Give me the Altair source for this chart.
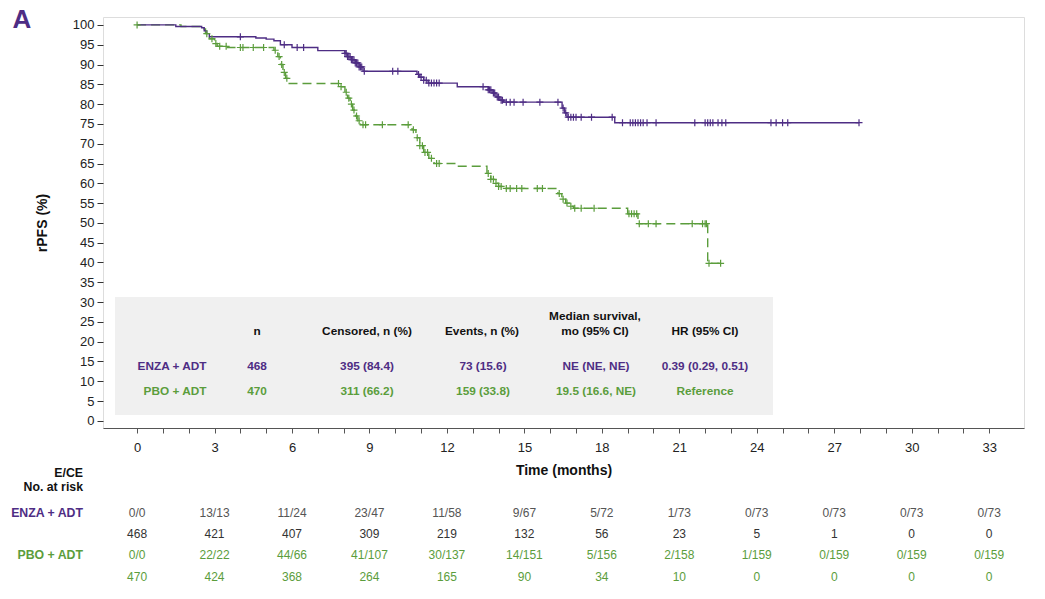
import altair as alt
import pandas as pd

# ---------------- data ----------------
# ENZA + ADT Kaplan-Meier steps (month, rPFS %)
enza_t = [0, 1.5, 2.5, 2.6, 2.7, 2.8, 4.6, 5.0, 5.3, 5.55, 6.0, 7.0,
          8.05, 8.15, 8.3, 8.45, 8.6, 8.75, 10.84, 10.95, 11.1, 11.27, 12.4,
          13.6, 13.75, 13.9, 14.05, 14.2, 16.46, 16.55, 16.65, 18.5]
enza_s = [100, 99.6, 99.3, 98.5, 97.8, 97.0, 96.7, 96.4, 96.0, 95.0, 94.3, 93.5,
          92.8, 92.0, 91.2, 90.4, 89.4, 88.3, 87.5, 86.8, 86.0, 85.3, 84.4,
          83.6, 82.8, 81.8, 81.0, 80.5, 79.0, 77.8, 76.7, 75.3]
enza_cens = [4.0, 5.7, 6.2, 6.45, 8.05, 8.1, 8.15, 8.2, 8.25, 8.3, 8.35, 8.4, 8.45, 8.5,
             8.55, 8.6, 8.65, 8.7, 8.8, 9.9, 10.1, 10.9, 11.0, 11.1, 11.2,
             11.3, 11.4, 11.5, 11.6, 11.7, 13.4, 13.6, 13.65, 13.7, 13.8, 13.85, 13.95,
             14.0, 14.1, 14.15, 14.3, 14.45,
             14.6, 14.95, 15.6, 16.3, 16.5, 16.6, 16.7, 16.8, 16.9, 17.0, 17.2, 17.6, 18.4, 18.8,
             19.1, 19.2, 19.3, 19.4, 19.5, 19.6, 19.75, 20.1, 21.6, 22.0, 22.1, 22.2,
             22.3, 22.5, 22.65, 22.8, 24.55, 24.75, 25.0, 25.2, 27.96]

# PBO + ADT Kaplan-Meier steps (month, rPFS %)
pbo_t = [0, 1.7, 2.55, 2.65, 2.8, 3.0, 3.1, 3.5, 5.3, 5.45, 5.55, 5.65, 5.75, 5.85,
         7.85, 8.05, 8.15, 8.25, 8.35, 8.45, 8.55, 8.65, 10.65, 10.8, 10.95, 11.1,
         11.3, 11.5, 12.4, 13.55, 13.7, 13.85, 14.0, 14.2, 16.3, 16.45, 16.6, 16.75,
         16.9, 19.0, 19.4, 22.1]
pbo_s = [100, 99.6, 99.0, 97.8, 96.5, 95.3, 94.6, 94.3, 93.6, 92.0, 90.0, 88.0, 86.5, 85.2,
         84.4, 83.0, 81.5, 80.0, 78.5, 77.0, 75.8, 74.8, 73.5, 71.5, 69.5, 67.8,
         66.3, 65.0, 64.3, 62.5, 61.0, 60.0, 59.2, 58.7, 57.4, 56.0, 55.0, 54.2,
         53.7, 52.3, 49.8, 39.8]
pbo_cens = [0.0, 2.7, 2.9, 3.05, 3.2, 3.45, 4.0, 4.1, 4.5, 4.9, 5.35, 5.5, 5.6, 5.7, 5.8,
            7.8, 7.9, 8.1, 8.2, 8.3, 8.4, 8.5, 8.6, 8.75, 8.85, 9.5, 10.5, 10.7,
            10.85, 10.95, 11.05, 11.15, 11.25, 11.4, 11.6, 11.7, 13.6, 13.7, 13.8, 13.9,
            14.0, 14.1, 14.3, 14.45, 14.7, 14.9,
            15.5, 15.7, 16.35, 16.5, 16.65, 16.8, 16.95, 17.2, 17.7, 19.05, 19.15,
            19.25, 19.35, 19.45, 19.8, 20.1, 21.5, 21.9, 22.0, 22.05, 22.15, 22.6]

# number-at-risk table
risk_months = [0, 3, 6, 9, 12, 15, 18, 21, 24, 27, 30, 33]
enza_ece = ["0/0", "13/13", "11/24", "23/47", "11/58", "9/67", "5/72", "1/73",
            "0/73", "0/73", "0/73", "0/73"]
enza_risk = [468, 421, 407, 309, 219, 132, 56, 23, 5, 1, 0, 0]
pbo_ece = ["0/0", "22/22", "44/66", "41/107", "30/137", "14/151", "5/156", "2/158",
           "1/159", "0/159", "0/159", "0/159"]
pbo_risk = [470, 424, 368, 264, 165, 90, 34, 10, 0, 0, 0, 0]

# summary table
tbl_header = ["n", "Censored, n (%)", "Events, n (%)", "Median survival,", "mo (95% CI)", "HR (95% CI)"]
tbl_enza = ["ENZA + ADT", "468", "395 (84.4)", "73 (15.6)", "NE (NE, NE)", "0.39 (0.29, 0.51)"]
tbl_pbo = ["PBO + ADT", "470", "311 (66.2)", "159 (33.8)", "19.5 (16.6, NE)", "Reference"]

# ---------------- styling / layout ----------------
PURPLE = "#4e2d84"
GREEN = "#5b9d3c"
FONT = "Liberation Sans"
OX, OY = 103, 17          # plot-area origin on the page
W, H = 921, 411


def step_value(ts, ss, t):
    v = ss[0]
    for ti, si in zip(ts, ss):
        if ti <= t + 1e-9:
            v = si
        else:
            break
    return v


enza_line = pd.DataFrame({"t": enza_t + [enza_cens[-1]], "s": enza_s + [enza_s[-1]]})
pbo_line = pd.DataFrame({"t": pbo_t + [pbo_cens[-1]], "s": pbo_s + [pbo_s[-1]]})
enza_pts = pd.DataFrame({"t": enza_cens, "s": [step_value(enza_t, enza_s, c) for c in enza_cens]})
pbo_pts = pd.DataFrame({"t": pbo_cens, "s": [step_value(pbo_t, pbo_s, c) for c in pbo_cens]})

xs = alt.Scale(domain=[-1.32, 34.35], nice=False, zero=False)
ys = alt.Scale(domain=[-1.8, 102], nice=False, zero=False)

xaxis = alt.Axis(values=list(range(34)),
                 labelExpr="datum.value % 3 == 0 ? datum.label : ''",
                 title="Time (months)", tickSize=5, labelPadding=8, titlePadding=9,
                 labelFontSize=13, titleFontSize=14, titleFontWeight="bold",
                 domainColor="#555", tickColor="#555", labelColor="#222",
                 titleColor="#111", grid=False, labelOverlap=False, labelFlush=False)
yaxis = alt.Axis(values=list(range(0, 101, 5)), title="rPFS (%)", tickSize=6,
                 labelPadding=3, domain=False, grid=False, titlePadding=23,
                 labelFontSize=13, titleFontSize=14, titleFontWeight="bold",
                 tickColor="#333", labelColor="#222", titleColor="#111")

X = alt.X("t:Q", scale=xs, axis=xaxis)
Y = alt.Y("s:Q", scale=ys, axis=yaxis)

PLUS = "M-1,0L1,0M0,-1L0,1"

l_enza = alt.Chart(enza_line).mark_line(interpolate="step-after", color=PURPLE,
                                        strokeWidth=1.4).encode(x=X, y=Y)
l_pbo = alt.Chart(pbo_line).mark_line(interpolate="step-after", color=GREEN,
                                      strokeWidth=1.4, strokeDash=[9, 5]).encode(x=X, y=Y)
p_enza = alt.Chart(enza_pts).mark_point(shape=PLUS, size=49, filled=False, color=PURPLE,
                                        strokeWidth=1.2, opacity=1).encode(x=X, y=Y)
p_pbo = alt.Chart(pbo_pts).mark_point(shape=PLUS, size=49, filled=False, color=GREEN,
                                      strokeWidth=1.2, opacity=1).encode(x=X, y=Y)

# summary table background
box = alt.Chart(pd.DataFrame({"a": [0]})).mark_rect(color="#f0f0f0").encode(
    x=alt.value(115 - OX), x2=alt.value(773 - OX),
    y=alt.value(297 - OY), y2=alt.value(415 - OY))

# summary table cells (page coordinates)
hdr_x = [257, 367, 482, 595, 595, 705]
hdr_y = [331, 331, 331, 316, 331, 331]
row_x = [172, 257, 367, 483, 596, 705]
cells = []
for t, x, y in zip(tbl_header, hdr_x, hdr_y):
    cells.append({"txt": t, "px": x - OX, "py": y - OY, "c": "#111"})
for t, x in zip(tbl_enza, row_x):
    cells.append({"txt": t, "px": x - OX, "py": 366 - OY, "c": PURPLE})
for t, x in zip(tbl_pbo, row_x):
    cells.append({"txt": t, "px": x - OX + (3 if t == "PBO + ADT" else 0), "py": 391 - OY, "c": GREEN})
cells = pd.DataFrame(cells)

PX = alt.X("px:Q", scale=None, axis=None)
PY = alt.Y("py:Q", scale=None, axis=None)

table_txt = alt.Chart(cells).mark_text(font=FONT, fontSize=11.8, fontWeight="bold",
                                       align="center", baseline="middle").encode(
    x=PX, y=PY, text="txt:N", color=alt.Color("c:N", scale=None))

# risk table left labels
lab = pd.DataFrame([
    {"txt": "E/CE", "px": 83 - OX, "py": 473 - OY, "c": "#111"},
    {"txt": "No. at risk", "px": 83 - OX, "py": 487 - OY, "c": "#111"},
    {"txt": "ENZA + ADT", "px": 83 - OX, "py": 513 - OY, "c": PURPLE},
    {"txt": "PBO + ADT", "px": 83 - OX, "py": 555 - OY, "c": GREEN},
])
risk_lab = alt.Chart(lab).mark_text(font=FONT, fontSize=12.3, fontWeight="bold",
                                    align="right", baseline="middle").encode(
    x=PX, y=PY, text="txt:N", color=alt.Color("c:N", scale=None))

# panel letter
letter = alt.Chart(pd.DataFrame({"txt": ["A"], "px": [22 - OX], "py": [20 - OY]})).mark_text(
    font=FONT, fontSize=26, fontWeight="bold", color=PURPLE, align="center",
    baseline="middle").encode(x=PX, y=PY, text="txt:N")


def risk_row(vals, py, color):
    df = pd.DataFrame({"t": risk_months, "v": [str(v) for v in vals]})
    return alt.Chart(df).mark_text(font=FONT, fontSize=12, color=color, align="center",
                                   baseline="middle").encode(
        x=X, y=alt.value(py - OY), text="v:N")


r1 = risk_row(enza_ece, 513, "#555555")
r2 = risk_row(enza_risk, 534, "#333333")
r3 = risk_row(pbo_ece, 555, GREEN)
r4 = risk_row(pbo_risk, 577, GREEN)

chart = alt.layer(box, l_pbo, l_enza, p_pbo, p_enza, table_txt, r1, r2, r3, r4,
                  risk_lab, letter).properties(
    width=W, height=H,
    autosize=alt.AutoSizeParams(type="none"),
    padding={"left": OX, "top": OY, "right": 1045 - OX - W, "bottom": 599 - OY - H},
).configure_view(stroke="#222", strokeWidth=1).configure(font=FONT, background="white")

chart.save("out.html", embed_options={"renderer": "svg", "actions": False})
